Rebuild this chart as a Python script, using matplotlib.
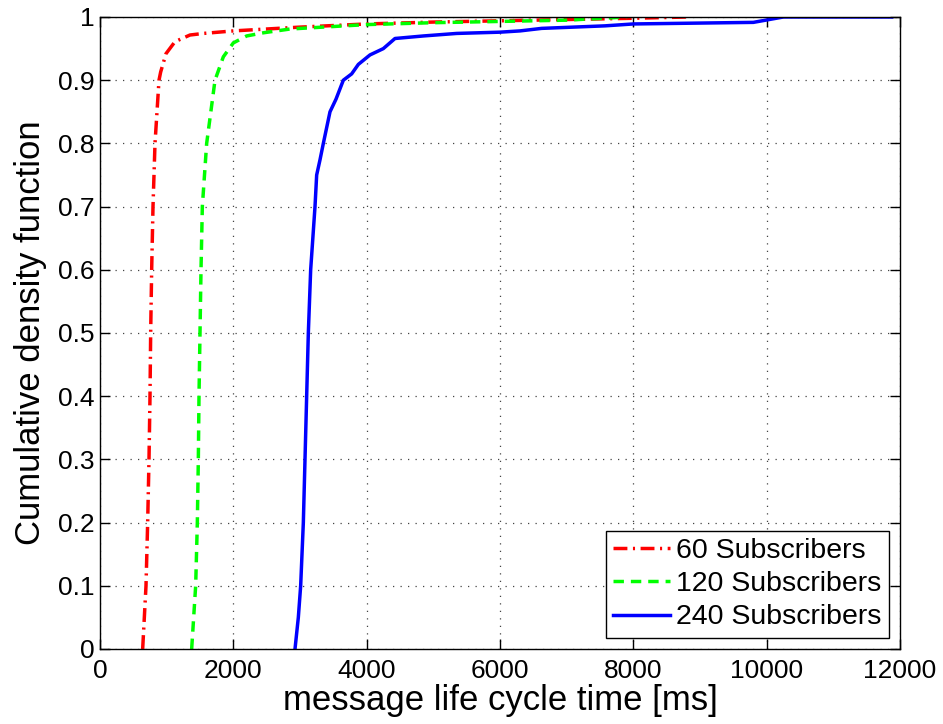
import matplotlib
matplotlib.use("Agg")
import matplotlib.pyplot as plt
import numpy as np

plt.rcParams['font.family'] = ['Liberation Sans', 'DejaVu Sans']

# CDF curves (x in ms, y = CDF)
x60 = [640, 690, 715, 735, 750, 760, 775, 795, 825, 885, 910, 990, 1125, 1350, 1550,
       2000, 3000, 4000, 5000, 6000, 7000, 8000, 8800]
y60 = [0, .1, .2, .3, .4, .5, .6, .7, .8, .9, .913, .942, .961, .9715, .974,
       .978, .984, .989, .992, .994, .996, .998, 1.0]

x120 = [1375, 1435, 1460, 1475, 1485, 1500, 1515, 1535, 1600, 1725, 1850, 2000, 2200,
        2450, 2850, 4000, 5000, 6000, 7000, 7900]
y120 = [0, .1, .2, .3, .4, .5, .6, .7, .8, .9, .937, .959, .97,
        .975, .981, .988, .991, .993, .995, 1.0]

x240 = [2925, 2975, 3010, 3050, 3075, 3100, 3125, 3160, 3225, 3250, 3300, 3350, 3450,
        3540, 3650, 3775, 3875, 4050, 4250, 4425, 4850, 5350, 6000, 6300, 6625, 7575,
        8000, 9800, 10250, 11875]
y240 = [0, .05, .1, .2, .3, .4, .5, .6, .7, .75, .774, .8, .85,
        .87, .9, .91, .925, .94, .95, .966, .97, .974, .976, .978, .982, .986,
        .989, .9915, 1.0, 1.0]

labels = ['60 Subscribers', '120 Subscribers', '240 Subscribers']
xticks = [0, 2000, 4000, 6000, 8000, 10000, 12000]
yticks = [0, 0.1, 0.2, 0.3, 0.4, 0.5, 0.6, 0.7, 0.8, 0.9, 1]
yticklabels = ['0', '0.1', '0.2', '0.3', '0.4', '0.5', '0.6', '0.7', '0.8', '0.9', '1']

fig = plt.figure(figsize=(9.43, 7.24), dpi=100)
ax = fig.add_axes([100/943, 1 - 649/724, 800/943, 632/724])

ax.plot(x60, y60, color='#ff0000', lw=2.5, linestyle=(0, (4, 1.6, 0.6, 1.6)), label=labels[0])
ax.plot(x120, y120, color='#00ff00', lw=2.5, linestyle=(0, (3, 2)), label=labels[1])
ax.plot(x240, y240, color='#0000ff', lw=2.5, linestyle='-', label=labels[2])

ax.set_xlim(0, 12000)
ax.set_ylim(0, 1)
ax.set_xticks(xticks)
ax.set_xticklabels([str(t) for t in xticks])
ax.set_yticks(yticks)
ax.set_yticklabels(yticklabels)
ax.tick_params(direction='in', length=7, width=1, labelsize=19,
               top=True, right=True)
ax.tick_params(axis='x', pad=7)
ax.tick_params(axis='y', pad=4)
ax.grid(True, color='#444444', linestyle=(0, (1, 5)), linewidth=0.9)
for s in ax.spines.values():
    s.set_linewidth(1)

ax.set_xlabel('message life cycle time [ms]', fontsize=25, labelpad=1)
ax.set_ylabel('Cumulative density function', fontsize=25, labelpad=8)

leg = ax.legend(loc='lower right', fontsize=20.5, handlelength=2.0, handletextpad=0.2,
                borderpad=0.25, labelspacing=0.25, borderaxespad=0.4,
                fancybox=False, framealpha=1, edgecolor='black')
leg.get_frame().set_linewidth(1)

fig.savefig('out.png', dpi=100)
